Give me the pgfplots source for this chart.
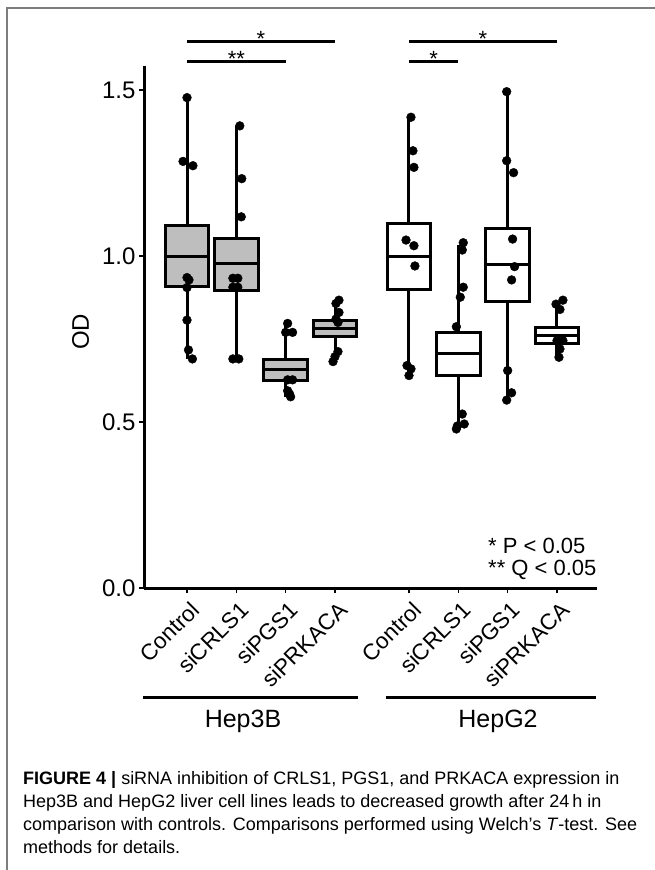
\documentclass[border=0pt]{standalone}
\usepackage{fontspec}
\setmainfont{Liberation Sans}
\usepackage{pgfplots}
\pgfplotsset{compat=1.18}
\usepgfplotslibrary{statistics}
\definecolor{boxgray}{RGB}{190,190,190}
\definecolor{framegray}{RGB}{125,125,125}
\newcommand{\fs}[1]{\fontsize{#1}{#1}\selectfont}

\pgfplotsset{
  bx/.style={draw=black, line width=3pt, solid, boxplot/draw direction=y},
  seg/.style={black, line width=3pt, solid, no marks, line cap=butt},
  dots/.style={only marks, mark=*, mark size=4.4pt, black, mark options={solid, line width=0.4pt}},
}

\begin{document}
\begin{tikzpicture}
\path[use as bounding box] (0,0) rectangle (655pt,-870pt);
\draw[framegray, line width=1.4pt] (7pt,-870pt) -- (7pt,-8pt) -- (655pt,-8pt);

\begin{axis}[
  at={(144pt,-588pt)}, anchor=south west,
  scale only axis, width=453pt, height=522pt,
  xmin=0.1283, xmax=9.311, ymin=0, ymax=1.5723,
  axis lines=left,
  axis line style={-, line width=3pt},
  tick align=outside, major tick length=5pt,
  tick style={line width=1.4pt, black},
  xtick={1,2,3,4,5.5,6.5,7.5,8.5},
  xticklabels={Control,siCRLS1,siPGS1,siPRKACA,Control,siCRLS1,siPGS1,siPRKACA},
  xticklabel style={rotate=45, anchor=east, font=\fs{22.5}, xshift=0pt, yshift=-15pt},
  ytick={0,0.5,1,1.5},
  yticklabels={0.0,0.5,1.0,1.5},
  yticklabel style={font=\fs{24}},
  ylabel={OD},
  ylabel style={at={(axis description cs:-0.14,0.491)}, anchor=center, font=\fs{24}},
  clip=false,
]
% whiskers (lower whisker to upper whisker)
\addplot[seg] coordinates {(1,0.69) (1,1.477)};
\addplot[seg] coordinates {(2,0.69) (2,1.392)};
\addplot[seg] coordinates {(3,0.576) (3,0.797)};
\addplot[seg] coordinates {(4,0.682) (4,0.867)};
\addplot[seg] coordinates {(5.5,0.640) (5.5,1.418)};
\addplot[seg] coordinates {(6.5,0.481) (6.5,1.033)};
\addplot[seg] coordinates {(7.5,0.566) (7.5,1.495)};
\addplot[seg] coordinates {(8.5,0.695) (8.5,0.862)};

% Hep3B (grey boxes)
\addplot[bx, fill=boxgray, boxplot prepared={draw position=1, lower whisker=0.69, lower quartile=0.908, median=1.0, upper quartile=1.091, upper whisker=1.477, box extend=0.88, whisker extend=0}] coordinates {};
\addplot[bx, fill=boxgray, boxplot prepared={draw position=2, lower whisker=0.69, lower quartile=0.896, median=0.976, upper quartile=1.052, upper whisker=1.392, box extend=0.88, whisker extend=0}] coordinates {};
\addplot[bx, fill=boxgray, boxplot prepared={draw position=3, lower whisker=0.576, lower quartile=0.624, median=0.657, upper quartile=0.687, upper whisker=0.797, box extend=0.88, whisker extend=0}] coordinates {};
\addplot[bx, fill=boxgray, boxplot prepared={draw position=4, lower whisker=0.682, lower quartile=0.759, median=0.782, upper quartile=0.807, upper whisker=0.867, box extend=0.88, whisker extend=0}] coordinates {};
% HepG2 (white boxes)
\addplot[bx, fill=white, boxplot prepared={draw position=5.5, lower whisker=0.640, lower quartile=0.900, median=0.998, upper quartile=1.098, upper whisker=1.418, box extend=0.88, whisker extend=0}] coordinates {};
\addplot[bx, fill=white, boxplot prepared={draw position=6.5, lower whisker=0.481, lower quartile=0.639, median=0.705, upper quartile=0.770, upper whisker=1.033, box extend=0.88, whisker extend=0}] coordinates {};
\addplot[bx, fill=white, boxplot prepared={draw position=7.5, lower whisker=0.566, lower quartile=0.862, median=0.973, upper quartile=1.083, upper whisker=1.495, box extend=0.88, whisker extend=0}] coordinates {};
\addplot[bx, fill=white, boxplot prepared={draw position=8.5, lower whisker=0.695, lower quartile=0.737, median=0.762, upper quartile=0.784, upper whisker=0.862, box extend=0.88, whisker extend=0}] coordinates {};

% medians
\addplot[seg] coordinates {(0.56,1.0) (1.44,1.0)};
\addplot[seg] coordinates {(1.56,0.976) (2.44,0.976)};
\addplot[seg] coordinates {(2.56,0.657) (3.44,0.657)};
\addplot[seg] coordinates {(3.56,0.782) (4.44,0.782)};
\addplot[seg] coordinates {(5.06,0.998) (5.94,0.998)};
\addplot[seg] coordinates {(6.06,0.705) (6.94,0.705)};
\addplot[seg] coordinates {(7.06,0.973) (7.94,0.973)};
\addplot[seg] coordinates {(8.06,0.762) (8.94,0.762)};

% jittered points
\addplot[dots] coordinates {(1.00,1.477) (0.92,1.285) (1.12,1.272) (1.00,0.935) (1.04,0.928) (1.00,0.905) (1.00,0.807) (1.03,0.717) (1.11,0.69)};
\addplot[dots] coordinates {(2.07,1.392) (2.11,1.233) (2.10,1.118) (1.93,0.933) (2.03,0.933) (1.93,0.906) (2.03,0.906) (1.93,0.69) (2.05,0.69)};
\addplot[dots] coordinates {(3.04,0.797) (3.00,0.770) (3.14,0.770) (3.04,0.627) (3.14,0.627) (3.04,0.594) (3.10,0.576) (3.08,0.584)};
\addplot[dots] coordinates {(4.08,0.867) (4.02,0.857) (4.08,0.830) (4.02,0.810) (4.06,0.800) (4.06,0.712) (4.00,0.697) (3.96,0.682)};
\addplot[dots] coordinates {(5.54,1.418) (5.58,1.317) (5.60,1.267) (5.44,1.048) (5.60,1.031) (5.62,0.970) (5.46,0.670) (5.54,0.660) (5.50,0.640)};
\addplot[dots] coordinates {(6.60,1.040) (6.58,1.018) (6.60,0.906) (6.54,0.876) (6.46,0.787) (6.58,0.524) (6.62,0.494) (6.48,0.488) (6.46,0.479)};
\addplot[dots] coordinates {(7.48,1.495) (7.48,1.287) (7.62,1.251) (7.60,1.051) (7.64,0.968) (7.58,0.928) (7.50,0.655) (7.58,0.588) (7.48,0.566)};
\addplot[dots] coordinates {(8.62,0.867) (8.48,0.855) (8.56,0.839) (8.50,0.745) (8.62,0.745) (8.56,0.720) (8.54,0.695)};

% significance brackets
\draw[line width=2.8pt] (axis cs:1,1.645) -- (axis cs:4,1.645);
\draw[line width=2.8pt] (axis cs:1,1.587) -- (axis cs:3,1.587);
\draw[line width=2.8pt] (axis cs:5.5,1.645) -- (axis cs:8.5,1.645);
\draw[line width=2.8pt] (axis cs:5.5,1.587) -- (axis cs:6.5,1.587);
\node[font=\fs{22}, anchor=base, inner sep=0pt] at (axis cs:2.5,1.630) {*};
\node[font=\fs{22}, anchor=base, inner sep=0pt] at (axis cs:2,1.570) {**};
\node[font=\fs{22}, anchor=base, inner sep=0pt] at (axis cs:7,1.630) {*};
\node[font=\fs{22}, anchor=base, inner sep=0pt] at (axis cs:6,1.570) {*};
\end{axis}

% note
\node[anchor=base west, inner sep=0pt, font=\fs{22}] at (488pt,-553pt) {* P < 0.05};
\node[anchor=base west, inner sep=0pt, font=\fs{22}] at (488pt,-575pt) {** Q < 0.05};

% cell line groups
\draw[line width=3pt] (143pt,-697pt) -- (358pt,-697pt);
\draw[line width=3pt] (386pt,-697pt) -- (596pt,-697pt);
\node[anchor=base, inner sep=0pt, font=\fs{25}] at (243pt,-727pt) {Hep3B};
\node[anchor=base, inner sep=0pt, font=\fs{25}] at (498pt,-727pt) {HepG2};

% caption
\begin{scope}[every node/.style={anchor=base west, inner sep=0pt, font=\fs{18}}]
\node at (23pt,-784pt) {\textbf{FIGURE 4 |} siRNA inhibition of CRLS1, PGS1, and PRKACA expression in};
\node at (23pt,-807pt) {Hep3B and HepG2 liver cell lines leads to decreased growth after 24\,h in};
\node at (23pt,-830pt) {comparison with controls. Comparisons performed using Welch’s \textit{T}-test. See};
\node at (23pt,-853pt) {methods for details.};
\end{scope}
\end{tikzpicture}
\end{document}
